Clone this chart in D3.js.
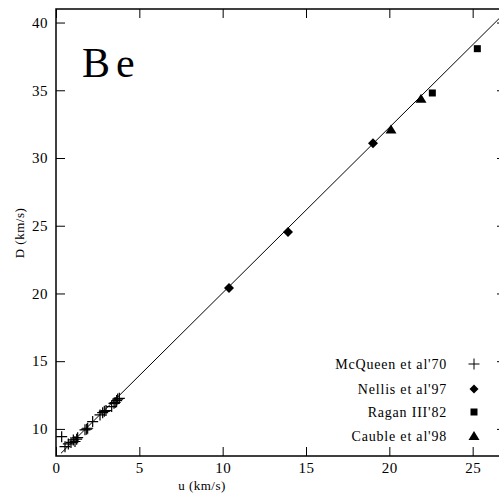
<!DOCTYPE html>
<html>
<head>
<meta charset="utf-8">
<script src="https://cdn.jsdelivr.net/npm/d3@7"></script>
<style>
  body { margin: 0; background: #fff; }
</style>
</head>
<body>
<div class="canvas"></div>
<script>
// McQueen et al'70 (plus signs)
const mcqU = [0.34, 0.54, 0.74, 0.9, 1.04, 1.14, 1.24, 1.3, 1.74, 1.84, 1.9, 2.2, 2.64, 2.8, 2.9, 3.0, 3.34, 3.48, 3.55, 3.64, 3.7, 3.8]
const mcqD = [9.43, 8.69, 8.89, 9.0, 9.19, 9.07, 9.24, 9.35, 9.93, 9.98, 10.05, 10.54, 11.03, 11.2, 11.3, 11.35, 11.65, 11.89, 11.95, 12.09, 12.2, 12.26]
// Nellis et al'97 (diamonds)
const nelU = [10.38, 13.92, 19.02]
const nelD = [20.40, 24.53, 31.09]
// Ragan III'82 (squares)
const ragU = [22.58, 25.28]
const ragD = [34.80, 38.07]
// Cauble et al'98 (triangles)
const cauU = [20.1, 21.9]
const cauD = [32.1, 34.38]
// fitted line end points
const fitU = [0.3, 27]
const fitD = [8.2, 40.8]

const xTicks = [0, 5, 10, 15, 20, 25]
const yTicks = [10, 15, 20, 25, 30, 35, 40]
const legendNames = ["McQueen et al'70", "Nellis et al'97", "Ragan III'82", "Cauble et al'98"]

const serif = '"Liberation Serif", "Times New Roman", Times, serif'

const margin = {top: 9, left: 56}
const width = 450, height = 447

const svg = d3.select('.canvas')
  .append('svg')
  .attr('width', 499)
  .attr('height', 494)
  .style('font-family', serif)

const graph = svg.append('g')
  .attr('transform', `translate(${margin.left}, ${margin.top})`)

const x = d3.scaleLinear().domain([0, 27]).range([0, width])
const y = d3.scaleLinear().domain([8, 41]).range([height, 0])

const tick = 9
const styleAxis = g => {
  g.attr('font-family', null)
  g.select('.domain').remove()
  g.selectAll('line').attr('stroke', '#000').attr('stroke-width', 1)
  g.selectAll('text')
    .style('font-family', serif)
    .style('font-size', '15px')
    .style('letter-spacing', '0.5px')
    .attr('fill', '#000')
}

graph.append('g')
  .attr('transform', `translate(0, ${height})`)
  .call(d3.axisBottom(x).tickValues(xTicks).tickSizeInner(-tick).tickSizeOuter(0).tickPadding(6))
  .call(styleAxis)
graph.append('g')
  .call(d3.axisTop(x).tickValues(xTicks).tickSizeInner(-tick).tickSizeOuter(0).tickFormat(''))
  .call(styleAxis)
graph.append('g')
  .call(d3.axisLeft(y).tickValues(yTicks).tickSizeInner(-tick).tickSizeOuter(0).tickPadding(8))
  .call(styleAxis)
graph.append('g')
  .attr('transform', `translate(${width}, 0)`)
  .call(d3.axisRight(y).tickValues(yTicks).tickSizeInner(-tick).tickSizeOuter(0).tickFormat(''))
  .call(styleAxis)

// frame
graph.append('rect')
  .attr('width', width)
  .attr('height', height)
  .attr('fill', 'none')
  .attr('stroke', '#000')
  .attr('stroke-width', 1.5)

// fit line
graph.append('path')
  .datum(fitU.map((u, i) => [u, fitD[i]]))
  .attr('d', d3.line().x(d => x(d[0])).y(d => y(d[1])))
  .attr('fill', 'none')
  .attr('stroke', '#000')
  .attr('stroke-width', 1)

const pairs = (us, ds) => us.map((u, i) => [u, ds[i]])
const plus = 'M-5.5,0H5.5M0,-5.5V5.5'

graph.selectAll('.mcq')
  .data(pairs(mcqU, mcqD))
  .enter().append('path')
  .attr('class', 'mcq')
  .attr('transform', d => `translate(${x(d[0])}, ${y(d[1])})`)
  .attr('d', plus)
  .attr('stroke', '#000')
  .attr('stroke-width', 1.2)

graph.selectAll('.nel')
  .data(pairs(nelU, nelD))
  .enter().append('path')
  .attr('class', 'nel')
  .attr('transform', d => `translate(${x(d[0])}, ${y(d[1])})`)
  .attr('d', 'M0,-5L5,0L0,5L-5,0Z')
  .attr('fill', '#000')

graph.selectAll('.rag')
  .data(pairs(ragU, ragD))
  .enter().append('rect')
  .attr('class', 'rag')
  .attr('x', d => x(d[0]) - 3.5)
  .attr('y', d => y(d[1]) - 3.5)
  .attr('width', 7)
  .attr('height', 7)
  .attr('fill', '#000')

graph.selectAll('.cau')
  .data(pairs(cauU, cauD))
  .enter().append('path')
  .attr('class', 'cau')
  .attr('transform', d => `translate(${x(d[0])}, ${y(d[1])})`)
  .attr('d', 'M0,-5L5.5,4L-5.5,4Z')
  .attr('fill', '#000')

// legend
const markers = [plus, 'M0,-4.5L4.5,0L0,4.5L-4.5,0Z', 'M-3.5,-3.5H3.5V3.5H-3.5Z', 'M0,-5L5.5,4L-5.5,4Z']
const legendY = [364, 389, 412, 436]
legendNames.forEach((name, i) => {
  const row = svg.append('g').attr('transform', `translate(0, ${legendY[i]})`)
  row.append('text')
    .attr('x', 447)
    .attr('dy', '0.35em')
    .attr('text-anchor', 'end')
    .style('font-size', '14px')
    .style('letter-spacing', '0.8px')
    .text(name)
  row.append('path')
    .attr('transform', 'translate(474, 0)')
    .attr('d', markers[i])
    .attr('fill', i === 0 ? 'none' : '#000')
    .attr('stroke', '#000')
    .attr('stroke-width', i === 0 ? 1 : 0)
})

// element label
svg.append('text')
  .attr('x', 82)
  .attr('y', 77)
  .style('font-size', '42px')
  .style('letter-spacing', '6px')
  .text('Be')

// axis titles
svg.append('text')
  .attr('x', 202)
  .attr('y', 490)
  .attr('text-anchor', 'middle')
  .style('font-size', '13px')
  .style('letter-spacing', '0.5px')
  .text('u (km/s)')

svg.append('text')
  .attr('transform', 'translate(24, 233) rotate(-90)')
  .attr('text-anchor', 'middle')
  .style('font-size', '13px')
  .style('letter-spacing', '0.5px')
  .text('D (km/s)')
</script>
</body>
</html>
